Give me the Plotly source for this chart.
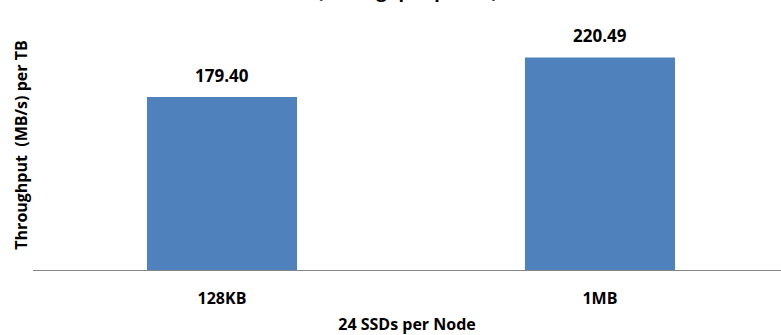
import plotly.graph_objects as go

categories = ["128KB", "1MB"]
values = [179.40, 220.49]
value_labels = ["179.40", "220.49"]
title_text = "(Throughput per TB)"
x_title = "24 SSDs per Node"
y_title = "Throughput  (MB/s) per TB"

FONT = "Open Sans"
BAR = "#4F81BD"

fig = go.Figure()
fig.add_trace(go.Bar(
    x=categories, y=values, marker_color=BAR, marker_line_width=0,
    width=0.397, hoverinfo="skip",
))
for c, v, t in zip(categories, values, value_labels):
    fig.add_annotation(x=c, y=v, text="<b>%s</b>" % t, showarrow=False,
                       yanchor="bottom", yshift=8,
                       font=dict(family=FONT, size=17, color="#000000"))

fig.add_annotation(xref="paper", yref="paper", x=0.5, y=1, yanchor="bottom",
                   yshift=15, text="<b>%s</b>" % title_text, showarrow=False,
                   font=dict(family=FONT, size=18, color="#000000"))

fig.update_layout(
    width=781, height=335,
    margin=dict(l=33, r=0, t=20, b=65),
    paper_bgcolor="white", plot_bgcolor="white",
    showlegend=False,
    xaxis=dict(
        range=[-0.5, 1.479], showgrid=False, zeroline=False,
        showline=True, linecolor="#868686", linewidth=1,
        ticks="outside", ticklen=14, tickcolor="rgba(0,0,0,0)",
        tickfont=dict(family=FONT, size=16, color="#000000"),
        tickvals=categories, ticktext=["<b>%s</b>" % c for c in categories],
        title=dict(text="<b>%s</b>" % x_title, standoff=11,
                   font=dict(family=FONT, size=16, color="#000000")),
    ),
    yaxis=dict(
        range=[0, 259.3], showgrid=False, zeroline=False, showline=False,
        showticklabels=False, ticks="",
        title=dict(text="<b>%s</b>" % y_title, standoff=0,
                   font=dict(family=FONT, size=16, color="#000000")),
    ),
)

fig.write_html("out.html")
